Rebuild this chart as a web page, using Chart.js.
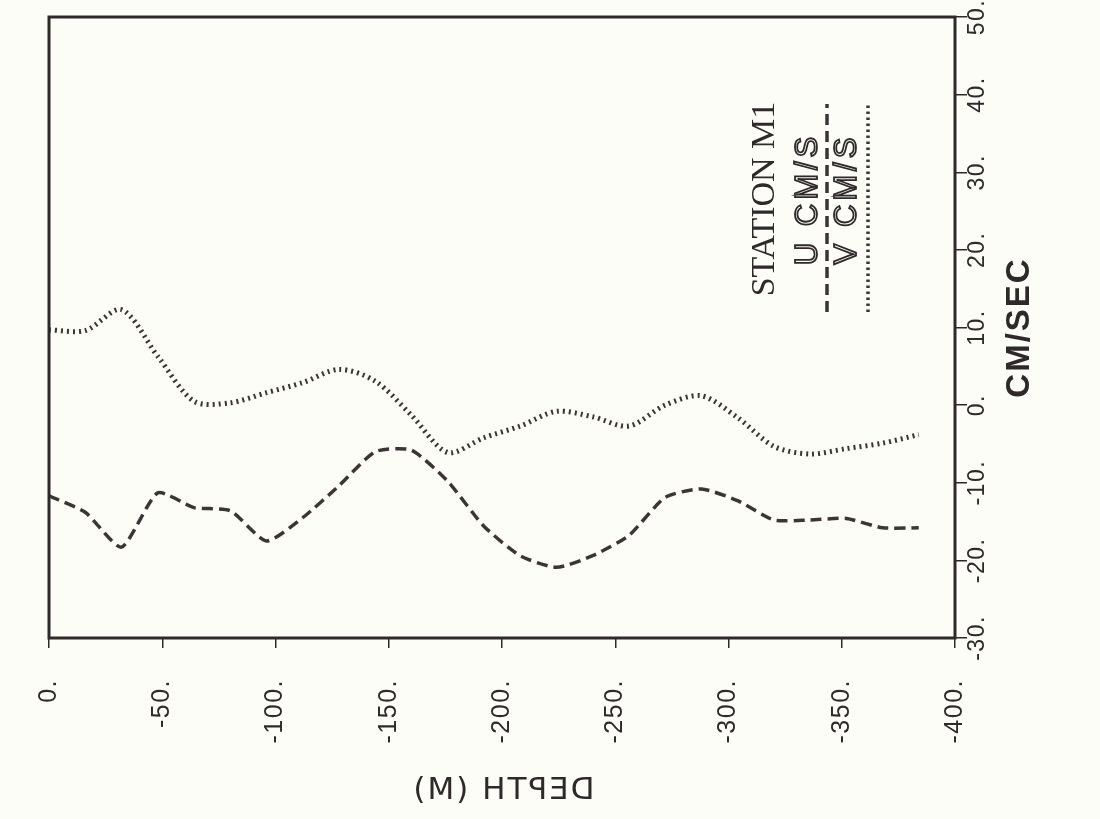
<!DOCTYPE html>
<html>
<head>
<meta charset="utf-8">
<script src="https://cdn.jsdelivr.net/npm/chart.js@4.4.1/dist/chart.umd.min.js"></script>
<style>
  html, body { margin: 0; padding: 0; background: #fdfdf8; }
  canvas { display: block; }
</style>
</head>
<body>
<canvas id="ctx" width="1100" height="819"></canvas>
<script>
const depth = [0, -16, -32, -48, -64, -80, -96, -112, -128, -144, -160, -176, -192,
  -208, -224, -240, -256, -272, -288, -304, -320, -336, -352, -368, -384];
const uSpeed = [-11.7, -13.8, -18.3, -11.3, -13.2, -13.6, -17.5, -14.5, -10.4, -6.0, -5.8, -9.8, -15.6,
  -19.4, -20.9, -19.4, -16.8, -11.9, -10.8, -12.3, -14.8, -14.8, -14.6, -15.8, -15.8];
const vSpeed = [9.7, 9.6, 12.3, 6.3, 0.5, 0.3, 1.6, 2.9, 4.6, 3.1, -1.3, -6.1, -4.2,
  -2.7, -0.8, -1.5, -2.7, 0.0, 1.2, -1.6, -5.3, -6.3, -5.6, -4.9, -3.8];
const depthTicks = [0, -50, -100, -150, -200, -250, -300, -350, -400];
const speedTicks = [-30, -20, -10, 0, 10, 20, 30, 40, 50];

const ink = "#2f2a2a";
const lineInk = "#3b3536";
const bg = "#fdfdf8";

const pts = (vals) => depth.map((d, i) => ({ x: d, y: vals[i] }));

// all the rotated / mirrored texts, the frame and the legend
const decor = {
  id: "decor",
  afterDraw(chart) {
    const c = chart.ctx;
    const a = chart.chartArea;
    const xs = chart.scales.x;
    const ys = chart.scales.y;
    c.save();
    c.strokeStyle = ink;
    c.lineWidth = 3;
    c.strokeRect(a.left, a.top, a.right - a.left, a.bottom - a.top);

    c.fillStyle = ink;
    c.letterSpacing = "1.5px";
    c.font = "25px 'Liberation Sans', Arial, sans-serif";
    c.textBaseline = "middle";
    depthTicks.forEach(v => {
      c.save();
      c.translate(xs.getPixelForValue(v), 679);
      c.rotate(-Math.PI / 2);
      c.textAlign = "right";
      c.fillText(v + ".", 0, 0);
      c.restore();
    });
    c.font = "23px 'Liberation Sans', Arial, sans-serif";
    speedTicks.forEach(v => {
      c.save();
      c.translate(978, ys.getPixelForValue(v));
      c.rotate(-Math.PI / 2);
      c.textAlign = "center";
      c.fillText(v + ".", 0, 0);
      c.restore();
    });

    // axis titles
    c.save();
    c.translate(1020, ys.getPixelForValue(10));
    c.rotate(-Math.PI / 2);
    c.textAlign = "center";
    c.letterSpacing = "2px";
    c.font = "bold 33px 'Liberation Sans', Arial, sans-serif";
    c.fillText("CM/SEC", 0, 0);
    c.restore();

    c.save();
    c.translate(503, 791);
    c.scale(-1, 1);
    c.textAlign = "center";
    c.letterSpacing = "2px";
    c.font = "31px 'DejaVu Sans', sans-serif";
    c.fillText("DEPTH (M)", 0, 0);
    c.restore();

    // legend
    c.save();
    c.translate(765, 199);
    c.rotate(-Math.PI / 2);
    c.textAlign = "center";
    c.letterSpacing = "0px";
    c.font = "34px 'Liberation Serif', serif";
    c.fillText("STATION M1", 0, 0);
    c.restore();

    [["U CM/S", 808], ["V CM/S", 847]].forEach(([t, x]) => {
      c.save();
      c.translate(x, 199);
      c.rotate(-Math.PI / 2);
      c.textAlign = "center";
      c.letterSpacing = "4px";
      c.font = "31px 'Liberation Sans', Arial, sans-serif";
      c.lineWidth = 1.8;
      c.strokeStyle = ink;
      c.fillStyle = bg;
      c.fillText(t, 0, 0);
      c.strokeText(t, 0, 0);
      c.restore();
    });

    chart.data.datasets.forEach((ds, i) => {
      const x = i === 0 ? 827 : 868;
      c.save();
      c.strokeStyle = ds.borderColor;
      c.lineWidth = 3.5;
      c.setLineDash(i === 0 ? ds.borderDash : [2.5, 3.5]);
      c.beginPath();
      c.moveTo(x, 312);
      c.lineTo(x, 104);
      c.stroke();
      c.restore();
    });
    c.restore();
  }
};

const pintarGrafica = () => {
  new Chart(document.getElementById("ctx"), {
    type: "line",
    data: {
      datasets: [
        {
          label: "U CM/S",
          data: pts(uSpeed),
          borderColor: lineInk,
          borderWidth: 3.5,
          borderDash: [11, 6],
          borderCapStyle: "butt",
          pointRadius: 0,
          tension: 0.2,
        },
        {
          label: "V CM/S",
          data: pts(vSpeed),
          borderColor: lineInk,
          borderWidth: 5,
          borderDash: [2, 4],
          borderCapStyle: "butt",
          pointRadius: 0,
          tension: 0.3,
        },
      ],
    },
    options: {
      responsive: false,
      animation: false,
      layout: { padding: { left: 49, top: 17, right: 0, bottom: 0 } },
      plugins: { legend: { display: false }, tooltip: { enabled: false } },
      scales: {
        x: {
          type: "linear",
          position: "bottom",
          reverse: true,
          min: -400,
          max: 0,
          ticks: { display: false, stepSize: 50 },
          grid: { drawOnChartArea: false, tickLength: 10, color: ink, lineWidth: 1.5 },
          border: { display: false },
          afterFit: (s) => { s.height = 819 - 638; },
        },
        y: {
          type: "linear",
          position: "right",
          min: -30,
          max: 50,
          ticks: { display: false, stepSize: 10 },
          grid: { drawOnChartArea: false, tickLength: 12, color: ink, lineWidth: 1.5 },
          border: { display: false },
          afterFit: (s) => { s.width = 1100 - 955; },
        },
      },
    },
    plugins: [decor],
  });
};

window.addEventListener("load", pintarGrafica);
</script>
</body>
</html>
